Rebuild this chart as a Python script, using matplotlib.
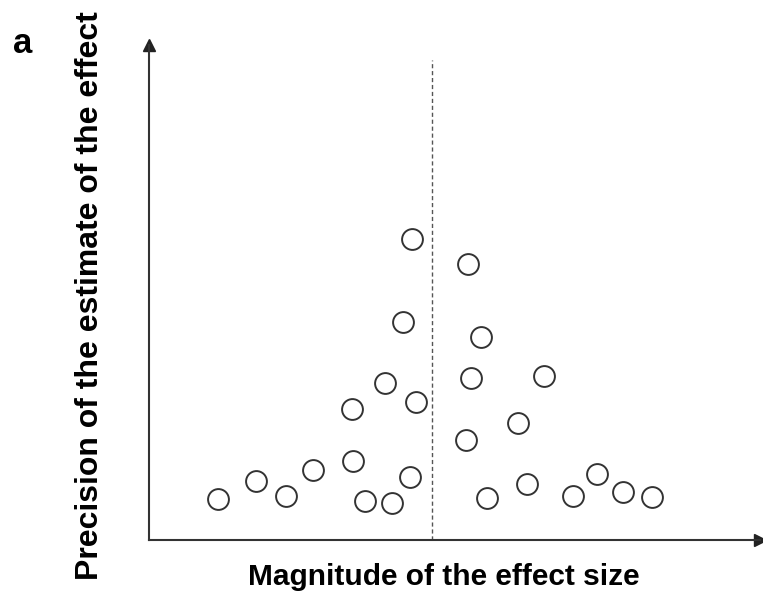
"""Funnel plot sketch: precision vs magnitude of effect size."""

import matplotlib.pyplot as plt

plt.rcParams['font.family'] = ['Liberation Sans', 'DejaVu Sans']

# effect size (relative to the pooled estimate) and precision of each study
effect = [-0.20, 0.36, -0.29, 0.49, -0.47, 0.39, 1.12, -0.16, -0.80, 0.86,
          0.34, -0.79, -1.19, -1.76, -0.22, 0.95, -2.14, -1.46, -0.67, -0.40,
          0.55, 1.41, 1.65, 1.91, 2.20]
precision = [3.01, 2.76, 2.18, 2.03, 1.57, 1.62, 1.64, 1.38, 1.31, 1.17,
             1.00, 0.79, 0.70, 0.59, 0.63, 0.56, 0.41, 0.44, 0.39, 0.37,
             0.42, 0.44, 0.66, 0.48, 0.43]
pooled = 0.0

x_label = "Magnitude of the effect size"
y_label = "Precision of the estimate of the effect"
panel = "a"

fig = plt.figure(figsize=(7.63, 5.93), dpi=100)
ax = fig.add_axes([0.1953, 0.0894, 0.8008, 0.8347])

ax.plot(effect, precision, 'o', ms=15, mfc='white', mec='#333333', mew=1.4,
        zorder=3)
ax.axvline(pooled, ymin=0, ymax=0.97, color='#555555', linestyle='--',
           linewidth=1, dashes=(3, 2))

ax.set_xlim(-2.83, 3.28)
ax.set_ylim(0, 4.95)

for side in ('top', 'right'):
    ax.spines[side].set_visible(False)
for side in ('left', 'bottom'):
    ax.spines[side].set_color('#333333')
    ax.spines[side].set_linewidth(1.5)

# arrow heads on the axes
ax.plot(1, 0, '>', color='#222222', ms=9, transform=ax.transAxes, clip_on=False)
ax.plot(0, 1, '^', color='#222222', ms=9, transform=ax.transAxes, clip_on=False)

ax.set_xticks([])
ax.set_yticks([])

ax.set_xlabel(x_label, fontsize=21.5, fontweight='bold')
ax.set_ylabel(y_label, fontsize=23, fontweight='bold')
ax.xaxis.set_label_coords(0.483, -0.046)
ax.yaxis.set_label_coords(-0.072, 0.493)

fig.text(0.030, 0.927, panel, fontsize=25, fontweight='bold',
         ha='center', va='center')

fig.savefig('out.png', dpi=100)
